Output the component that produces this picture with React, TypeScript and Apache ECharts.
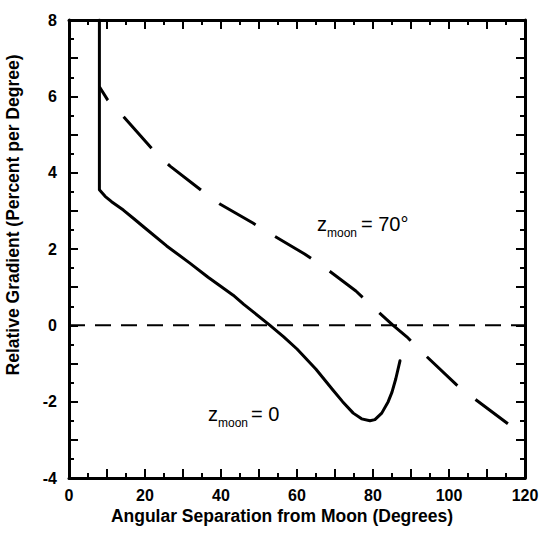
import React, { useEffect, useRef } from "react";
import * as echarts from "echarts";

// z_moon = 0 (solid)
const solidX = [8, 8, 9.5, 11.2, 14.3, 17, 20, 25.7, 31.8, 36.6, 40, 43.2, 46, 48.9, 52.9, 56.5, 60, 65, 69.5, 72, 74.8, 77, 79.2, 80.5, 82.3, 84, 85, 86, 87.1];
const solidY = [8, 3.55, 3.38, 3.24, 3.02, 2.8, 2.55, 2.08, 1.63, 1.26, 1.02, 0.79, 0.55, 0.32, 0, -0.3, -0.62, -1.15, -1.7, -2.0, -2.3, -2.45, -2.5, -2.47, -2.3, -2.0, -1.75, -1.4, -0.93];

// z_moon = 70° (long dashes)
const dashX = [8, 10.2, 14.3, 22, 26.6, 35.3, 39.7, 48.4, 53, 62, 66.8, 75.5, 80, 85.3, 88.9, 93.4, 102, 106.8, 115.5];
const dashY = [6.25, 5.9, 5.47, 4.61, 4.17, 3.5, 3.18, 2.68, 2.4, 1.87, 1.55, 0.9, 0.48, 0, -0.3, -0.75, -1.56, -1.93, -2.58];

// zero reference line
const zeroX = [0, 120];
const zeroY = [0, 0];

const xTitle = "Angular Separation from Moon (Degrees)";
const yTitle = "Relative Gradient (Percent per Degree)";

const FONT = "'Liberation Sans', Arial, Helvetica, sans-serif";

function zip(xs: number[], ys: number[]) {
  return xs.map((x, i) => [x, ys[i]]);
}

export default function App() {
  const ref = useRef<HTMLDivElement>(null);
  useEffect(() => {
    if (!ref.current) return;
    const chart = echarts.init(ref.current, undefined, { renderer: "svg" });
    const axisCommon = {
      axisLine: { show: true, onZero: false, lineStyle: { color: "#000", width: 3 } },
      axisTick: { show: true, inside: true, length: 9, lineStyle: { color: "#000", width: 2 } },
      minorTick: { show: true, splitNumber: 2, length: 5, lineStyle: { color: "#000", width: 2 } },
      splitLine: { show: false },
      minorSplitLine: { show: false },
    };
    const labelStyle = { color: "#000", fontSize: 16, fontWeight: "bold" as const, fontFamily: FONT };
    chart.setOption({
      animation: false,
      backgroundColor: "#fff",
      grid: { left: 69, right: 20, top: 20, bottom: 57, containLabel: false },
      xAxis: [
        {
          type: "value", min: 0, max: 120, interval: 10, position: "bottom",
          ...axisCommon,
          axisLabel: { ...labelStyle, margin: 9, formatter: (v: number) => (v % 20 === 0 ? String(v) : "") },
        },
        {
          type: "value", min: 0, max: 120, interval: 10, position: "top",
          ...axisCommon,
          axisLabel: { show: false },
        },
      ],
      yAxis: [
        {
          type: "value", min: -4, max: 8, interval: 1, position: "left",
          ...axisCommon,
          axisLabel: { ...labelStyle, margin: 12, formatter: (v: number) => (v % 2 === 0 ? String(v) : "") },
        },
        {
          type: "value", min: -4, max: 8, interval: 1, position: "right",
          ...axisCommon,
          axisLabel: { show: false },
        },
      ],
      series: [
        {
          type: "line", name: "zero", data: zip(zeroX, zeroY), symbol: "none",
          lineStyle: { color: "#000", width: 2, type: [16, 10] },
          z: 1,
        },
        {
          type: "line", name: "z_moon = 0", data: zip(solidX, solidY), symbol: "none", smooth: false,
          lineStyle: { color: "#000", width: 3, join: "round", cap: "round" },
          clip: true, z: 2,
        },
        {
          type: "line", name: "z_moon = 70", data: zip(dashX, dashY), symbol: "none", smooth: false,
          lineStyle: { color: "#000", width: 3, type: [42, 22.8], dashOffset: 26.4, join: "round" },
          clip: true, z: 2,
        },
      ],
      graphic: [
        {
          type: "text", x: 282, y: 516,
          style: { text: xTitle, fontSize: 17.5, fontWeight: "bold", fontFamily: FONT, fill: "#000", align: "center", verticalAlign: "middle" },
        },
        {
          type: "text", x: 13, y: 215, rotation: Math.PI / 2,
          style: { text: yTitle, fontSize: 17.5, fontWeight: "bold", fontFamily: FONT, fill: "#000", align: "center", verticalAlign: "middle" },
        },
        // z_moon = 70°
        { type: "text", x: 317, y: 224, style: { text: "z", fontSize: 20, fontFamily: FONT, fill: "#000", align: "left", verticalAlign: "middle" } },
        { type: "text", x: 327, y: 233, style: { text: "moon", fontSize: 12, fontFamily: FONT, fill: "#000", align: "left", verticalAlign: "middle" } },
        { type: "text", x: 361, y: 224, style: { text: "= 70°", fontSize: 20, fontFamily: FONT, fill: "#000", align: "left", verticalAlign: "middle" } },
        // z_moon = 0
        { type: "text", x: 208, y: 414, style: { text: "z", fontSize: 20, fontFamily: FONT, fill: "#000", align: "left", verticalAlign: "middle" } },
        { type: "text", x: 218, y: 423, style: { text: "moon", fontSize: 12, fontFamily: FONT, fill: "#000", align: "left", verticalAlign: "middle" } },
        { type: "text", x: 251, y: 414, style: { text: "= 0", fontSize: 20, fontFamily: FONT, fill: "#000", align: "left", verticalAlign: "middle" } },
      ],
    });
    return () => chart.dispose();
  }, []);
  return <div ref={ref} style={{ width: 545, height: 535, position: "absolute", left: 0, top: 0 }} />;
}
